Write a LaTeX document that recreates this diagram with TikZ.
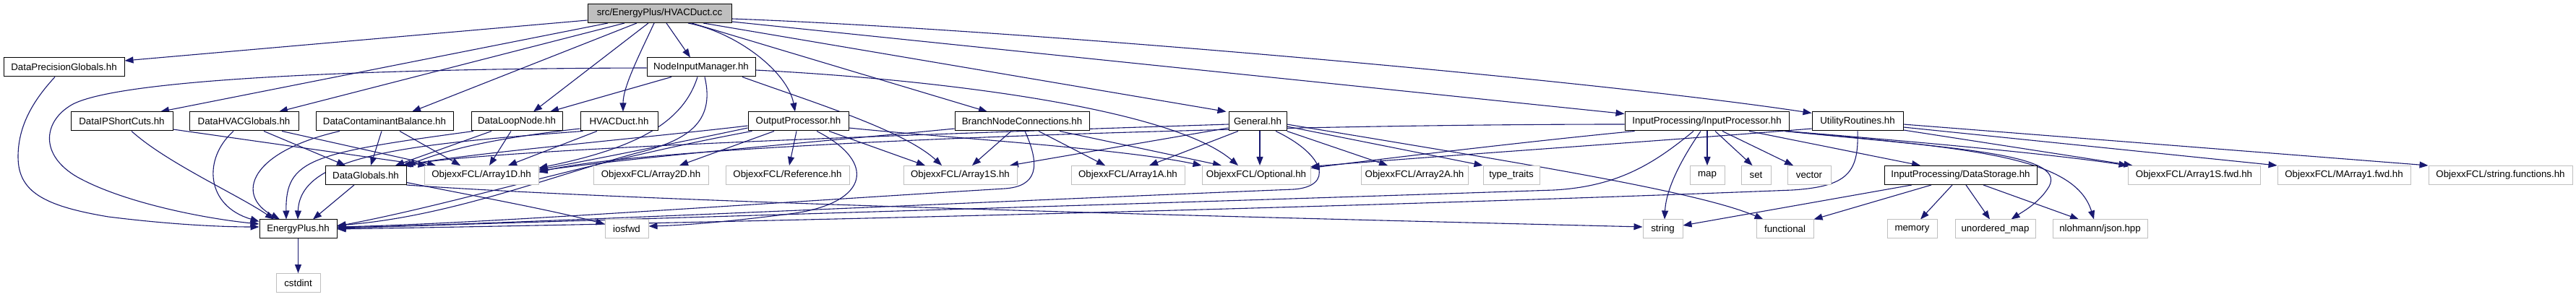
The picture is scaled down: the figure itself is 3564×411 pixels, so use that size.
\documentclass[tikz,border=0pt]{standalone}
\usepackage{fontspec}
\setmainfont{Liberation Sans}
\usetikzlibrary{arrows.meta,backgrounds}
\definecolor{edgeblue}{HTML}{191970}
\definecolor{extgray}{HTML}{BFBFBF}
\begin{document}
\begin{tikzpicture}[x=1pt,y=-1pt,
  every node/.style={font=\fontsize{13.3}{15}\selectfont},
  doc/.style={draw=black, line width=1pt, fill=white, minimum height=26pt, inner sep=0pt},
  ext/.style={doc, draw=extgray},
  e/.style={draw=edgeblue, line width=1.1pt, -{Triangle[length=12pt,width=9pt]}}
]
\useasboundingbox (0,0) rectangle (3564,411);
% row 0
\node[doc, fill=extgray, minimum width=199pt] (top) at (912.5,18.5) {src/EnergyPlus/HVACDuct.cc};
% row 1
\node[doc, minimum width=167pt] (DPG) at (88.5,93) {DataPrecisionGlobals.hh};
\node[doc, minimum width=150pt] (NIM) at (970,93) {NodeInputManager.hh};
% row 2
\node[doc, minimum width=141pt] (DIPSC) at (168.5,168) {DataIPShortCuts.hh};
\node[doc, minimum width=151pt] (DHVACG) at (337.5,168) {DataHVACGlobals.hh};
\node[doc, minimum width=190pt] (DCB) at (532,168) {DataContaminantBalance.hh};
\node[doc, minimum width=126pt] (DLN) at (715,168) {DataLoopNode.hh};
\node[doc, minimum width=107pt] (HD) at (856.5,168) {HVACDuct.hh};
\node[doc, minimum width=139pt] (OP) at (1104.5,168) {OutputProcessor.hh};
\node[doc, minimum width=186pt] (BNC) at (1414,168) {BranchNodeConnections.hh};
\node[doc, minimum width=80pt] (GEN) at (1740,168) {General.hh};
\node[doc, minimum width=227pt] (IP) at (2361.5,168) {InputProcessing/InputProcessor.hh};
\node[doc, minimum width=126pt] (UR) at (2570,168) {UtilityRoutines.hh};
% row 3
\node[doc, minimum width=112pt] (DG) at (506,242.5) {DataGlobals.hh};
\node[ext, minimum width=158pt] (A1D) at (666,242.5) {ObjexxFCL/Array1D.hh};
\node[ext, minimum width=159pt] (A2D) at (900.5,242.5) {ObjexxFCL/Array2D.hh};
\node[ext, minimum width=171pt] (REF) at (1089.5,242.5) {ObjexxFCL/Reference.hh};
\node[ext, minimum width=157pt] (A1S) at (1328.5,242.5) {ObjexxFCL/Array1S.hh};
\node[ext, minimum width=157pt] (A1A) at (1560.5,242.5) {ObjexxFCL/Array1A.hh};
\node[ext, minimum width=150pt] (OPT) at (1738,242.5) {ObjexxFCL/Optional.hh};
\node[ext, minimum width=148pt] (A2A) at (1957,242.5) {ObjexxFCL/Array2A.hh};
\node[ext, minimum width=78pt] (TT) at (2091,242.5) {type\_traits};
\node[ext, minimum width=48pt] (MAP) at (2362,242.5) {map};
\node[ext, minimum width=41pt] (SET) at (2429.5,242.5) {set};
\node[ext, minimum width=60pt] (VEC) at (2503,242.5) {vector};
\node[doc, minimum width=211pt] (DS) at (2712.5,242.5) {InputProcessing/DataStorage.hh};
\node[ext, minimum width=183pt] (A1SF) at (3035.5,242.5) {ObjexxFCL/Array1S.fwd.hh};
\node[ext, minimum width=184pt] (MA1F) at (3243,242.5) {ObjexxFCL/MArray1.fwd.hh};
\node[ext, minimum width=199pt] (SF) at (3459.5,242.5) {ObjexxFCL/string.functions.hh};
% row 4
\node[doc, minimum width=107pt] (EP) at (412.5,317) {EnergyPlus.hh};
\node[ext, minimum width=60pt] (IOS) at (867,317) {iosfwd};
\node[ext, minimum width=55pt] (STR) at (2300.5,317) {string};
\node[ext, minimum width=79pt] (FUN) at (2469.5,317) {functional};
\node[ext, minimum width=69pt] (MEM) at (2645.5,317) {memory};
\node[ext, minimum width=111pt] (UMAP) at (2760.5,317) {unordered\_map};
\node[ext, minimum width=131pt] (JSON) at (2905.5,317) {nlohmann/json.hpp};
% row 5
\node[ext, minimum width=61pt] (CST) at (412.5,391.5) {cstdint};

\begin{pgfonlayer}{background}
\fill[white] (0,0) rectangle (3564,411);
% top node
\draw[e] ([yshift=-9.5pt]top.west) -- ([yshift=9pt]DPG.east);
\draw[e] ([xshift=-71.5pt]top.south) -- ([xshift=53.5pt]DIPSC.north);
\draw[e] ([xshift=-48.5pt]top.south) -- ([xshift=48.5pt]DHVACG.north);
\draw[e] ([xshift=-31.5pt]top.south) -- ([xshift=38pt]DCB.north);
\draw[e] ([xshift=-15.5pt]top.south) -- ([xshift=23pt]DLN.north);
\draw[e] ([xshift=-7.5pt]top.south) .. controls (885,75) and (862,120) .. ([xshift=5.5pt]HD.north);
\draw[e] ([xshift=9.5pt]top.south) -- ([xshift=-15pt]NIM.north);
\draw[e] ([xshift=39.5pt]top.south) .. controls (1020,45) and (1090,100) .. ([xshift=-4.5pt]OP.north);
\draw[e] ([xshift=44.5pt]top.south) -- ([xshift=-48pt]BNC.north);
\draw[e] ([xshift=60.5pt]top.south) -- ([xshift=-3pt]GEN.north west);
\draw[e] ([yshift=-11.5pt]top.east) -- ([yshift=-3pt]IP.north west);
\draw[e] ([yshift=-7.5pt]top.east) .. controls (1400,40) and (2200,110) .. ([yshift=-2pt]UR.north west);
% DataPrecisionGlobals
\draw[e] ([xshift=-12.5pt]DPG.south) .. controls (45,140) and (25,175) .. (25,217) .. controls (25,265) and (60,285) .. (150,300) .. controls (230,310) and (300,314) .. ([yshift=3pt]EP.west);
% NodeInputManager
\draw[e] ([yshift=-1pt]NIM.west) .. controls (500,95) and (150,110) .. (96,147) .. controls (60,170) and (55,215) .. (107,245) .. controls (170,280) and (280,302) .. ([yshift=7pt]EP.west);
\draw[e] ([xshift=-41pt]NIM.south) -- ([xshift=46pt]DLN.north);
\draw[e] ([xshift=-5pt]NIM.south) .. controls (945,170) and (880,205) .. ([yshift=10pt]A1D.east);
\draw[e] ([xshift=5pt]NIM.south) .. controls (990,170) and (950,195) .. (880,212) .. controls (760,245) and (620,300) .. ([yshift=5pt]EP.east);
\draw[e] ([xshift=57pt]NIM.south) .. controls (1120,140) and (1250,180) .. ([xshift=-25.5pt]A1S.north);
\draw[e] ([yshift=-4pt]NIM.east) .. controls (1300,110) and (1620,150) .. ([xshift=-25pt]OPT.north);
% DataIPShortCuts
\draw[e] ([xshift=13.5pt]DIPSC.south) .. controls (230,225) and (330,270) .. ([xshift=-33.5pt]EP.north);
\draw[e] ([yshift=-11pt]DIPSC.east) -- ([xshift=4pt]A1D.north west);
% DataHVACGlobals
\draw[e] ([xshift=-14.5pt]DHVACG.south) .. controls (280,220) and (285,285) .. ([yshift=-3pt]EP.north west);
\draw[e] ([xshift=27.5pt]DHVACG.south) -- ([xshift=-28pt]DG.north);
\draw[e] ([xshift=52.5pt]DHVACG.south) -- ([xshift=-63pt]A1D.north);
% DataContaminantBalance
\draw[e] ([xshift=-62pt]DCB.south) .. controls (345,210) and (325,270) .. ([xshift=-25.5pt]EP.north);
\draw[e] ([xshift=-4pt]DCB.south) -- ([xshift=7pt]DG.north);
\draw[e] ([xshift=21pt]DCB.south) -- ([xshift=-29pt]A1D.north);
% DataLoopNode
\draw[e] ([xshift=-60pt]DLN.south) .. controls (430,212) and (395,220) .. ([xshift=-16.5pt]EP.north);
\draw[e] ([xshift=-35pt]DLN.south) -- ([xshift=41pt]DG.north);
\draw[e] ([xshift=-8pt]DLN.south) -- ([xshift=11pt]A1D.north);
% HVACDuct.hh
\draw[e] ([xshift=-50pt]HD.south) .. controls (560,200) and (415,215) .. ([xshift=-0.5pt]EP.north);
\draw[e] ([yshift=-10pt]HD.west) .. controls (650,195) and (600,215) .. (DG.north east);
\draw[e] ([xshift=-30.5pt]HD.south) -- ([xshift=37pt]A1D.north);
% OutputProcessor
\draw[e] ([xshift=-33.5pt]OP.south) -- ([xshift=39.5pt]A2D.north);
\draw[e] ([xshift=-2.5pt]OP.south) -- ([xshift=2.5pt]REF.north);
\draw[e] ([xshift=25.5pt]OP.south) .. controls (1215,225) and (1200,280) .. (1100,295) .. controls (1000,308) and (940,312) .. ([yshift=4pt]IOS.east);
\draw[e] ([xshift=42.5pt]OP.south) -- ([xshift=-48.5pt]A1S.north);
\draw[e] ([yshift=-9pt]OP.east) .. controls (1300,190) and (1550,205) .. (OPT.north west);
\draw[e] ([yshift=-9pt]OP.west) .. controls (950,195) and (800,225) .. ([yshift=8pt]A1D.east);
\draw[e] ([yshift=-6pt]OP.west) .. controls (900,190) and (650,212) .. ([xshift=-3pt]DG.north east);
\draw[e] ([xshift=-64pt]OP.south) .. controls (820,222) and (640,280) .. ([yshift=4pt]EP.east);
% BranchNodeConnections
\draw[e] ([xshift=-15pt]BNC.south) -- ([xshift=16.5pt]A1S.north);
\draw[e] ([xshift=23pt]BNC.south) -- ([xshift=-31.5pt]A1A.north);
\draw[e] ([xshift=52pt]BNC.south) -- ([xshift=-48pt]OPT.north);
\draw[e] ([xshift=4pt]BNC.south) .. controls (1440,230) and (1435,258) .. (1390,261) .. controls (1000,285) and (650,310) .. ([yshift=3pt]EP.east);
\draw[e] ([yshift=-10pt]BNC.west) .. controls (1200,190) and (900,215) .. ([yshift=6pt]A1D.east);
% General
\draw[e] ([xshift=3pt]GEN.south) -- ([xshift=5pt]OPT.north);
\draw[e] ([yshift=-9pt]GEN.west) -- ([xshift=68.5pt]A1S.north);
\draw[e] ([xshift=-27pt]GEN.south) -- ([xshift=29.5pt]A1A.north);
\draw[e] (GEN.south east) -- ([xshift=-37pt]A2A.north);
\draw[e] ([yshift=-7pt]GEN.east) -- (TT.north west);
\draw[e] ([yshift=-4pt]GEN.east) .. controls (2100,225) and (2350,265) .. ([xshift=-30pt]FUN.north);
\draw[e] ([xshift=25pt]GEN.south) .. controls (1835,215) and (1845,258) .. (1790,262) .. controls (1300,282) and (700,310) .. ([yshift=2pt]EP.east);
\draw[e] ([yshift=-4pt]GEN.west) .. controls (1300,185) and (700,205) .. ([xshift=-6pt]DG.north east);
% InputProcessor
\draw[e] ([xshift=0.5pt]IP.south) -- (MAP.north);
\draw[e] ([xshift=11.5pt]IP.south) -- ([xshift=-5pt]SET.north);
\draw[e] ([xshift=21.5pt]IP.south) -- ([xshift=-22pt]VEC.north);
\draw[e] ([xshift=-8.5pt]IP.south) .. controls (2325,222) and (2305,262) .. ([xshift=2.5pt]STR.north);
\draw[e] ([xshift=58.5pt]IP.south) -- ([xshift=-55.5pt]DS.north);
\draw[e] ([xshift=-18.5pt]IP.south) .. controls (2290,225) and (2240,258) .. (2150,263) .. controls (1500,285) and (800,305) .. ([yshift=1pt]EP.east);
\draw[e] ([xshift=108pt]IP.south) .. controls (2700,205) and (2860,212) .. (2835,258) .. controls (2822,280) and (2800,292) .. ([xshift=22pt]UMAP.north);
\draw[e] ([xshift=108pt]IP.south) .. controls (2720,205) and (2870,215) .. ([xshift=-8.5pt]JSON.north);
\draw[e] ([xshift=110pt]IP.south) .. controls (2700,200) and (2850,215) .. (A1SF.north west);
\draw[e] ([xshift=-100pt]IP.south) .. controls (2150,192) and (1950,215) .. ([yshift=10pt]OPT.east);
\draw[e] ([yshift=-4pt]IP.west) .. controls (1700,172) and (900,200) .. ([yshift=4pt]A1D.east);
% UtilityRoutines
\draw[e] (UR.south) .. controls (2572,240) and (2555,258) .. (2480,263) .. controls (1800,290) and (900,310) .. ([yshift=0pt]EP.east);
\draw[e] ([yshift=-12pt]UR.east) -- ([xshift=7pt]A1SF.north west);
\draw[e] ([yshift=-8pt]UR.east) -- (MA1F.north west);
\draw[e] ([yshift=-4pt]UR.east) -- (SF.north west);
\draw[e] ([yshift=-10pt]UR.west) .. controls (2300,195) and (2000,215) .. ([yshift=12pt]OPT.east);
% DataStorage
\draw[e] ([xshift=-67.5pt]DS.south) -- ([yshift=5pt]STR.east);
\draw[e] ([xshift=-40.5pt]DS.south) -- (FUN.north east);
\draw[e] ([xshift=-11.5pt]DS.south) -- ([xshift=11.5pt]MEM.north);
\draw[e] ([xshift=7.5pt]DS.south) -- ([xshift=-7.5pt]UMAP.north);
\draw[e] ([xshift=31.5pt]DS.south) -- ([xshift=-29.5pt]JSON.north);
% DataGlobals
\draw[e] ([xshift=-16pt]DG.south) -- ([xshift=20.5pt]EP.north);
\draw[e] ([yshift=-10pt]DG.east) .. controls (650,270) and (760,290) .. ([yshift=7pt]IOS.west);
\draw[e] (DG.south east) .. controls (900,280) and (1700,300) .. ([yshift=3pt]STR.west);
% EnergyPlus
\draw[e] (EP.south) -- (CST.north);
\end{pgfonlayer}
\end{tikzpicture}
\end{document}
